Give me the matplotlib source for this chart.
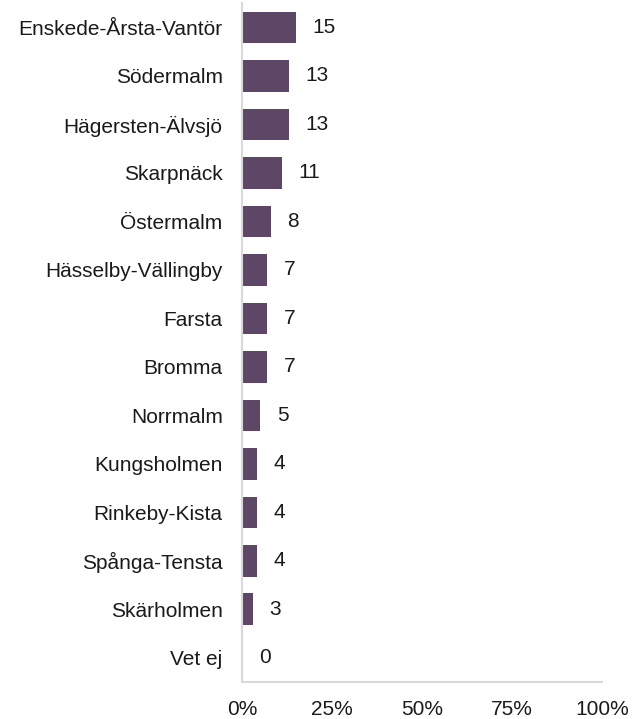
import matplotlib.pyplot as plt

districts = ['Enskede-Årsta-Vantör', 'Södermalm', 'Hägersten-Älvsjö', 'Skarpnäck',
             'Östermalm', 'Hässelby-Vällingby', 'Farsta', 'Bromma', 'Norrmalm',
             'Kungsholmen', 'Rinkeby-Kista', 'Spånga-Tensta', 'Skärholmen', 'Vet ej']
values = [15, 13, 13, 11, 8, 7, 7, 7, 5, 4, 4, 4, 3, 0]
xticks = [0, 25, 50, 75, 100]

plt.rcParams['font.family'] = ['Liberation Sans', 'DejaVu Sans']

fig = plt.figure(figsize=(6.44, 7.19), dpi=100)
ax = fig.add_axes([0.376, 0.0515, 0.559, 0.944])

y = list(range(len(districts)))
ax.barh(y, values, height=0.65, color='#5e4766')
for yi, v in zip(y, values):
    ax.annotate(str(v), (v, yi), xytext=(12, 0), textcoords='offset points',
                va='center', ha='left', fontsize=15, color='#1a1a1a')

ax.set_yticks(y)
ax.set_yticklabels(districts, fontsize=15, color='#1a1a1a')
ax.set_ylim(len(districts) - 0.5, -0.5)
ax.set_xlim(0, 100)
ax.set_xticks(xticks)
ax.set_xticklabels([f'{t}%' for t in xticks], fontsize=15, color='#1a1a1a')
ax.tick_params(axis='both', length=0)
ax.tick_params(axis='x', pad=13)
ax.tick_params(axis='y', pad=14)

for s in ['top', 'right']:
    ax.spines[s].set_visible(False)
for s in ['left', 'bottom']:
    ax.spines[s].set_color('#d9d9d9')
    ax.spines[s].set_linewidth(1.5)

fig.savefig('out.png', dpi=100)
